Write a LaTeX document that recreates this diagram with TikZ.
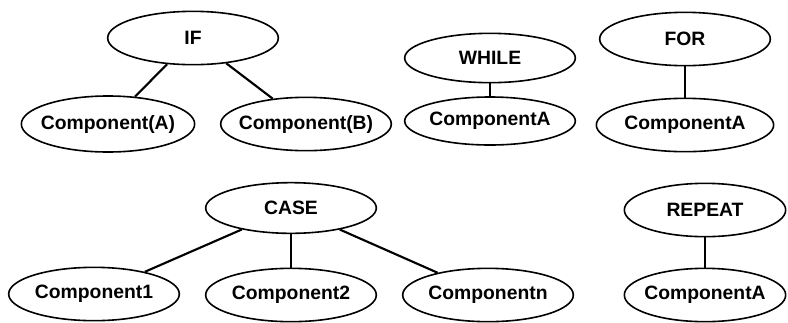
\documentclass[tikz,border=0pt]{standalone}
\usepackage{fontspec}
\setmainfont{Liberation Sans}
\usetikzlibrary{shapes.geometric}

\begin{document}
\begin{tikzpicture}[x=0.75pt,y=-0.75pt,
    blob/.style={ellipse, draw, line width=1.2pt, inner xsep=-12pt, inner ysep=0pt,
      minimum width=128pt, minimum height=40pt,
      font=\bfseries\fontsize{14.5}{16}\selectfont},
    link/.style={line width=1.6pt}]
  \useasboundingbox (0,0) rectangle (788,322);
  % IF
  \node[blob] (if) at (193,38) {IF};
  \node[blob, minimum width=130pt, minimum height=42pt] (ifa) at (108,124) {Component(A)};
  \node[blob] (ifb) at (306,124) {Component(B)};
  \draw[link] (if) -- (ifa);
  \draw[link] (if) -- (ifb);
  % WHILE
  \node[blob, minimum height=37pt] (while) at (490,58) {WHILE};
  \node[blob, minimum height=36pt] (whilea) at (490,121) {ComponentA};
  \draw[link] (while) -- (whilea);
  % FOR
  \node[blob] (for) at (685,39) {FOR};
  \node[blob, minimum width=133pt] (fora) at (685,125) {ComponentA};
  \draw[link] (for) -- (fora);
  % CASE
  \node[blob, minimum height=38pt] (case) at (291,208) {CASE};
  \node[blob] (caseone) at (94,294) {Component1};
  \node[blob] (casetwo) at (291,295) {Component2};
  \node[blob] (casen) at (488,295) {Componentn};
  \draw[link] (case) -- (caseone);
  \draw[link] (case) -- (casetwo);
  \draw[link] (case) -- (casen);
  % REPEAT
  \node[blob, minimum width=121pt] (repeat) at (705,210) {REPEAT};
  \node[blob, minimum width=121pt] (repeata) at (705,295) {ComponentA};
  \draw[link] (repeat) -- (repeata);
\end{tikzpicture}
\end{document}
